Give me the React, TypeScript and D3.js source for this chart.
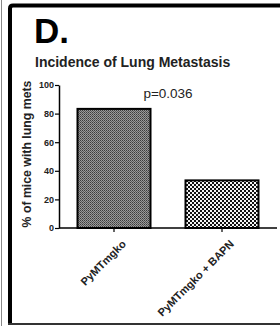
import { useEffect, useRef } from 'react';
import * as d3 from 'd3';

const groups = ['PyMTmgko', 'PyMTmgko + BAPN'];
const incidence = [83.3, 33.3];
const yTicks = [0, 20, 40, 60, 80, 100];
const patternIds = ['dotsDark', 'checkLight'];

export default function App() {
  const svgRef = useRef<SVGSVGElement>(null);
  const width = 280;
  const height = 326;

  useEffect(() => {
    if (!svgRef.current) return;
    const svg = d3.select(svgRef.current);
    svg.selectAll('*').remove();

    const font = 'Arial, "Liberation Sans", Helvetica, sans-serif';

    // patterns for the bar fills
    const defs = svg.append('defs');
    const p1 = defs.append('pattern')
      .attr('id', 'dotsDark')
      .attr('patternUnits', 'userSpaceOnUse')
      .attr('width', 2).attr('height', 2);
    p1.append('rect').attr('width', 2).attr('height', 2).attr('fill', '#9a9a9a');
    p1.append('rect').attr('width', 1).attr('height', 1).attr('fill', '#3c3c3c');
    p1.append('rect').attr('x', 1).attr('y', 1).attr('width', 1).attr('height', 1).attr('fill', '#5a5a5a');

    const p2 = defs.append('pattern')
      .attr('id', 'checkLight')
      .attr('patternUnits', 'userSpaceOnUse')
      .attr('width', 4).attr('height', 4);
    p2.append('rect').attr('width', 4).attr('height', 4).attr('fill', '#111');
    p2.append('rect').attr('width', 2).attr('height', 2).attr('fill', '#f4f4f4');
    p2.append('rect').attr('x', 2).attr('y', 2).attr('width', 2).attr('height', 2).attr('fill', '#f4f4f4');

    svg.append('rect').attr('width', width).attr('height', height).attr('fill', '#fff');

    // frame
    svg.append('line')
      .attr('x1', 1.5).attr('x2', 1.5).attr('y1', 0).attr('y2', height)
      .attr('stroke', '#888').attr('stroke-width', 1);
    svg.append('path')
      .attr('d', `M${width + 5},5.5 H13 Q10,5.5 10,8.5 V324`)
      .attr('fill', 'none').attr('stroke', '#000').attr('stroke-width', 4);
    svg.append('line')
      .attr('x1', 8).attr('x2', width).attr('y1', 324).attr('y2', 324)
      .attr('stroke', '#333').attr('stroke-width', 2);

    // headings
    svg.append('text')
      .attr('x', 34).attr('y', 43)
      .attr('font-family', font).attr('font-weight', 'bold').attr('font-size', 35)
      .text('D.');
    svg.append('text')
      .attr('x', 35).attr('y', 67)
      .attr('font-family', font).attr('font-weight', 'bold').attr('font-size', 14)
      .attr('fill', '#222')
      .text('Incidence of Lung Metastasis');

    const x = d3.scaleBand<string>().domain(groups).range([60, 276]).paddingInner(0.324).paddingOuter(0.162);
    const y = d3.scaleLinear().domain([0, 100]).range([228, 85]);

    // bars
    svg.append('g')
      .selectAll('rect')
      .data(groups)
      .enter()
      .append('rect')
      .attr('x', d => x(d)!)
      .attr('y', (d, i) => y(incidence[i]))
      .attr('width', x.bandwidth())
      .attr('height', (d, i) => y(0) - y(incidence[i]))
      .attr('fill', (d, i) => `url(#${patternIds[i]})`)
      .attr('stroke', '#000')
      .attr('stroke-width', 2);

    // y axis
    const yAxis = svg.append('g')
      .attr('transform', 'translate(59,0)')
      .call(d3.axisLeft(y).tickValues(yTicks).tickSize(4).tickSizeOuter(0));
    yAxis.select('.domain').attr('stroke-width', 1.5);
    yAxis.selectAll('line').attr('stroke-width', 1.2);
    yAxis.selectAll('text')
      .attr('font-family', font).attr('font-weight', 'bold').attr('font-size', 9)
      .attr('fill', '#222').attr('x', -5);

    // x axis
    const xAxis = svg.append('g')
      .attr('transform', `translate(0,${y(0)})`)
      .call(d3.axisBottom(x).tickSize(4).tickSizeOuter(0));
    xAxis.select('.domain').attr('d', 'M59,0H277').attr('stroke-width', 1.5);
    xAxis.selectAll('line').attr('stroke-width', 1.2);
    xAxis.selectAll('text')
      .attr('font-family', font).attr('font-weight', 'bold').attr('font-size', 11)
      .attr('fill', '#222')
      .attr('text-anchor', 'end')
      .attr('dy', '0.35em')
      .attr('transform', 'translate(5,9) rotate(-45)');

    // y label
    svg.append('text')
      .attr('transform', 'translate(31,154) rotate(-90)')
      .attr('text-anchor', 'middle')
      .attr('font-family', font).attr('font-weight', 'bold').attr('font-size', 12.3)
      .attr('fill', '#222')
      .text('% of mice with lung mets');

    // significance
    svg.append('text')
      .attr('x', 168).attr('y', 98)
      .attr('text-anchor', 'middle')
      .attr('font-family', font).attr('font-size', 13.5)
      .attr('fill', '#222')
      .text('p=0.036');
  }, []);

  return (
    <svg ref={svgRef} width={width} height={height}
      style={{ position: 'absolute', left: 0, top: 0, display: 'block' }} />
  );
}
